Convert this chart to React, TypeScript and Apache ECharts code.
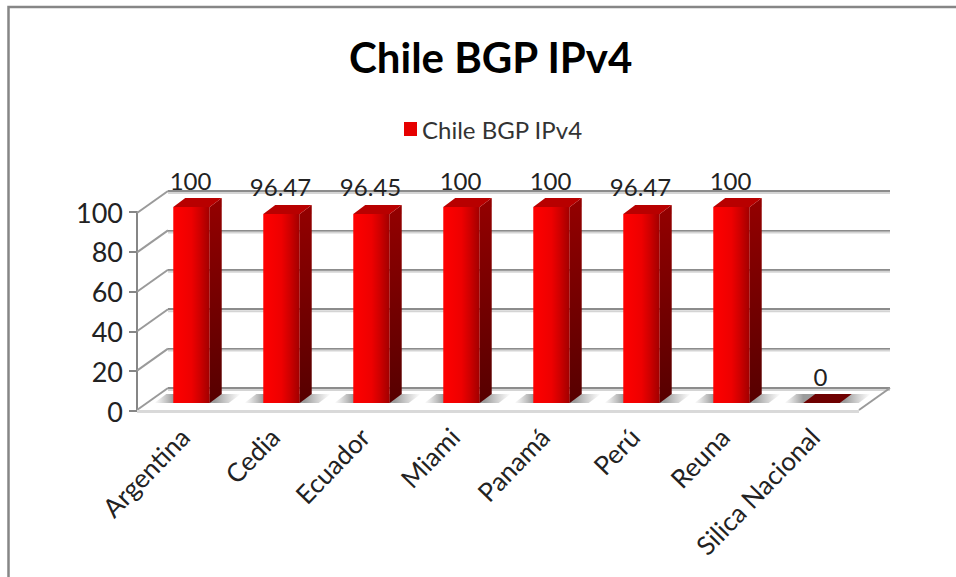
import React, { useEffect, useRef } from "react";
import * as echarts from "echarts";

const title = "Chile BGP IPv4";
const categories = ["Argentina", "Cedia", "Ecuador", "Miami", "Panamá", "Perú", "Reuna", "Silica Nacional"];
const values = [100, 96.47, 96.45, 100, 100, 96.47, 100, 0];
const yTicks = [0, 20, 40, 60, 80, 100];

const FONT = "Lato, 'Noto Sans', sans-serif";
const GREY = "#868686";
const DX = 12;
const DY = 9;
const WALL_DX = 31;
const WALL_DY = 22;

const grad = (x2: number, y2: number, stops: [number, string][]) =>
  new echarts.graphic.LinearGradient(0, 0, x2, y2, stops.map(([offset, color]) => ({ offset, color })));

function renderBar(_: any, api: any) {
  const value = api.value(1);
  const [cx, top] = api.coord([api.value(0), value]);
  const [, base] = api.coord([api.value(0), 0]);
  const w = api.size([1, 0])[0] * 0.405;
  const l = cx - w / 2;
  const r = cx + w / 2;
  const children: any[] = [
    {
      type: "polygon",
      shape: { points: [[l - 19, base], [l - 7, base - DY], [r + 31, base - DY], [r + 19, base]] },
      style: {
        fill: grad(1, 0, [
          [0, "rgba(150,150,150,0)"],
          [0.22, "rgba(130,130,130,0.8)"],
          [0.7, "rgba(130,130,130,0.8)"],
          [1, "rgba(150,150,150,0)"],
        ]),
      },
    },
  ];
  if (value > 0) {
    children.push(
      {
        type: "polygon",
        shape: { points: [[r, top], [r + DX, top - DY], [r + DX, base - DY], [r, base]] },
        style: { fill: grad(0, 1, [[0, "#940000"], [1, "#560000"]]) },
      },
      {
        type: "polygon",
        shape: { points: [[l, top], [l + DX, top - DY], [r + DX, top - DY], [r, top]] },
        style: { fill: "#b80000" },
      },
      {
        type: "rect",
        shape: { x: l, y: top, width: w, height: base - top },
        style: { fill: grad(1, 0, [[0, "#ff0000"], [0.5, "#ee0000"], [0.75, "#cc0000"], [1, "#a00000"]]) },
      }
    );
  } else {
    children.push({
      type: "polygon",
      shape: { points: [[l, base], [l + DX, base - DY], [r + DX, base - DY], [r, base]] },
      style: { fill: "#6e0000" },
    });
  }
  children.push({
    type: "text",
    x: cx - 1,
    y: top - 27,
    style: {
      text: String(value),
      font: `24px ${FONT}`,
      fill: "#222222",
      align: "center",
      verticalAlign: "middle",
    },
  });
  return { type: "group", children };
}

function renderWall(_: any, api: any) {
  const tick = api.value(1);
  const [bx, by] = api.coord([0, tick]);
  const [rx, ry] = api.coord([1, tick]);
  const children: any[] = [
    { type: "line", shape: { x1: bx, y1: by + 2, x2: rx, y2: ry + 2 }, style: { stroke: "#d4d4d4", lineWidth: 2 } },
    { type: "line", shape: { x1: bx, y1: by, x2: bx - WALL_DX, y2: by + WALL_DY }, style: { stroke: "#9a9a9a", lineWidth: 2 } },
  ];
  if (tick === 0) {
    children.push(
      { type: "line", shape: { x1: rx, y1: ry, x2: rx - WALL_DX, y2: ry + WALL_DY }, style: { stroke: "#9a9a9a", lineWidth: 2 } },
      { type: "line", shape: { x1: bx - WALL_DX, y1: by + WALL_DY + 1.5, x2: rx - WALL_DX, y2: ry + WALL_DY + 1.5 }, style: { stroke: "#d9d9d9", lineWidth: 3 } }
    );
  }
  return { type: "group", children };
}

export default function App() {
  const ref = useRef<HTMLDivElement>(null);
  useEffect(() => {
    const chart = echarts.init(ref.current!, undefined, { renderer: "svg" });
    chart.setOption({
      animation: false,
      backgroundColor: "#ffffff",
      title: {
        text: title,
        left: 344,
        top: 31,
        textStyle: { fontFamily: FONT, fontSize: 42, fontWeight: "bold", color: "#000000" },
      },
      legend: {
        data: [title],
        left: 399,
        top: 112,
        icon: "rect",
        itemWidth: 13,
        itemHeight: 14,
        itemGap: 8,
        textStyle: { fontFamily: FONT, fontSize: 24, color: "#333333" },
      },
      grid: [
        { left: 137, top: 212, width: 722, height: 199 },
        { left: 168, top: 191, width: 722, height: 197 },
        { left: 146.5, top: 207, width: 720, height: 196 },
      ],
      xAxis: [
        { gridIndex: 0, type: "value", min: 0, max: 1, show: false },
        { gridIndex: 1, type: "value", min: 0, max: 1, show: false },
        {
          gridIndex: 2,
          type: "category",
          data: categories,
          axisLine: { show: false },
          axisTick: { show: false },
          axisLabel: {
            interval: 0,
            rotate: 46,
            margin: 22,
            padding: [0, 10, 0, 0],
            fontFamily: FONT,
            fontSize: 26,
            color: "#222222",
          },
        },
      ],
      yAxis: [
        {
          gridIndex: 0,
          type: "value",
          min: 0,
          max: 100,
          interval: 20,
          axisLine: { show: true, lineStyle: { color: GREY, width: 2 } },
          axisTick: { show: true, length: 8, lineStyle: { color: GREY, width: 2 } },
          splitLine: { show: false },
          axisLabel: { margin: 14, fontFamily: FONT, fontSize: 27, color: "#222222" },
        },
        {
          gridIndex: 1,
          type: "value",
          min: 0,
          max: 100,
          interval: 20,
          axisLine: { show: false },
          axisTick: { show: false },
          axisLabel: { show: false },
          splitLine: { show: true, lineStyle: { color: "#8c8c8c", width: 2 } },
        },
        { gridIndex: 2, type: "value", min: 0, max: 100, show: false },
      ],
      series: [
        {
          name: "wall",
          type: "custom",
          xAxisIndex: 1,
          yAxisIndex: 1,
          z: 1,
          silent: true,
          renderItem: renderWall,
          data: yTicks.map((t) => [0, t]),
        },
        {
          name: title,
          type: "custom",
          xAxisIndex: 2,
          yAxisIndex: 2,
          z: 5,
          itemStyle: { color: "#e60000" },
          encode: { x: 0, y: 1 },
          renderItem: renderBar,
          data: values.map((v, i) => [i, v]),
        },
      ],
      graphic: [
        {
          type: "polyline",
          shape: { points: [[8.5, 577], [8.5, 7], [956, 7]] },
          style: { stroke: GREY, lineWidth: 2.5, fill: "none" },
        },
      ],
    });
    return () => chart.dispose();
  }, []);
  return <div ref={ref} style={{ position: "fixed", left: 0, top: 0, width: 956, height: 577 }} />;
}
